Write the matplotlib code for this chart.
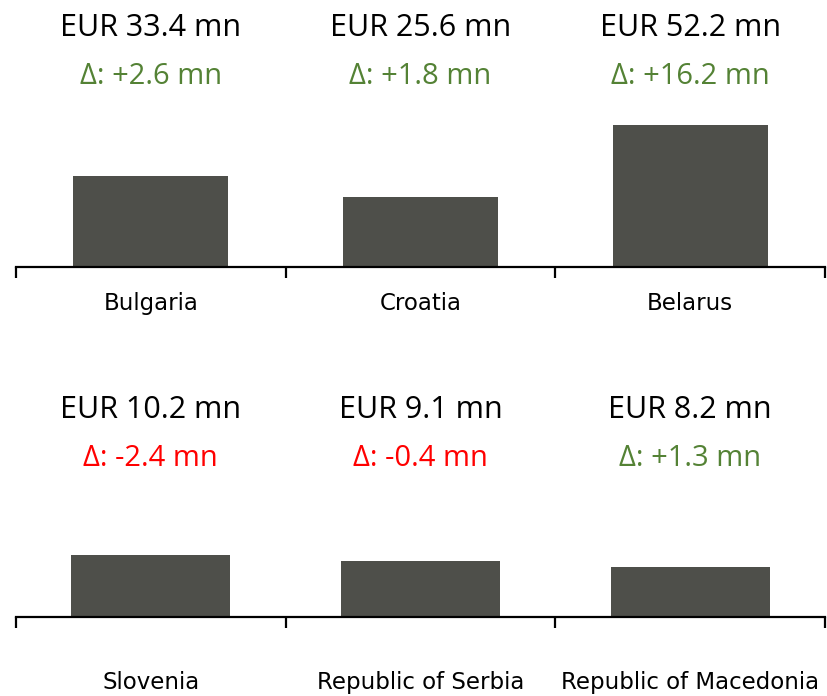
import matplotlib.pyplot as plt
import matplotlib.transforms as mtransforms

# top row
top_countries = ['Bulgaria', 'Croatia', 'Belarus']
top_values = [33.4, 25.6, 52.2]
top_deltas = [2.6, 1.8, 16.2]

# bottom row
bot_countries = ['Slovenia', 'Republic of Serbia', 'Republic of Macedonia']
bot_values = [10.2, 9.1, 8.2]
bot_deltas = [-2.4, -0.4, 1.3]

BAR = '#4E4F4A'
GREEN = '#548235'
RED = '#FF0000'

W, H = 828, 696
fig = plt.figure(figsize=(W / 100, H / 100), dpi=100)


def draw_row(rect, countries, values, deltas, ymax, width, label_pad, title_y, delta_y):
    ax = fig.add_axes(rect)
    x = list(range(len(countries)))
    ax.bar(x, values, width=width, color=BAR)
    ax.set_xlim(-0.5, len(countries) - 0.5)
    ax.set_ylim(0, ymax)

    for side in ['top', 'right', 'left']:
        ax.spines[side].set_visible(False)
    ax.spines['bottom'].set_linewidth(1.6)
    ax.set_yticks([])

    # labels at the centres, tick marks at the category borders
    ax.set_xticks(x)
    ax.set_xticklabels(countries, fontsize=16.5, family='DejaVu Sans')
    ax.tick_params(axis='x', which='major', length=0, pad=label_pad)
    ax.set_xticks([i - 0.5 for i in range(len(countries) + 1)], minor=True)
    ax.tick_params(axis='x', which='minor', length=8, width=1.6, direction='out')

    tr = mtransforms.blended_transform_factory(ax.transData, fig.transFigure)
    for i in x:
        ax.text(i, 1 - title_y / H, 'EUR %.1f mn' % values[i], transform=tr,
                ha='center', va='center', fontsize=22, family='Open Sans', color='black')
        d = deltas[i]
        col = GREEN if d >= 0 else RED
        ax.text(i, 1 - delta_y / H, 'Δ: %+.1f mn' % d, transform=tr,
                ha='center', va='center', fontsize=21, family='Open Sans', color=col)
    return ax


left = 16 / W
width = (825 - 16) / W
axh = 160

# top row: baseline at y=267 px, about 2.71 px per EUR mn
draw_row([left, 1 - 267 / H, width, axh / H], top_countries, top_values, top_deltas,
         axh / 2.715, 0.575, 18, 28, 77)

# bottom row: baseline at y=617 px, about 6.1 px per EUR mn
draw_row([left, 1 - 617 / H, width, axh / H], bot_countries, bot_values, bot_deltas,
         axh / 6.1, 0.59, 39, 410, 458)

plt.savefig('out.png', dpi=100)
